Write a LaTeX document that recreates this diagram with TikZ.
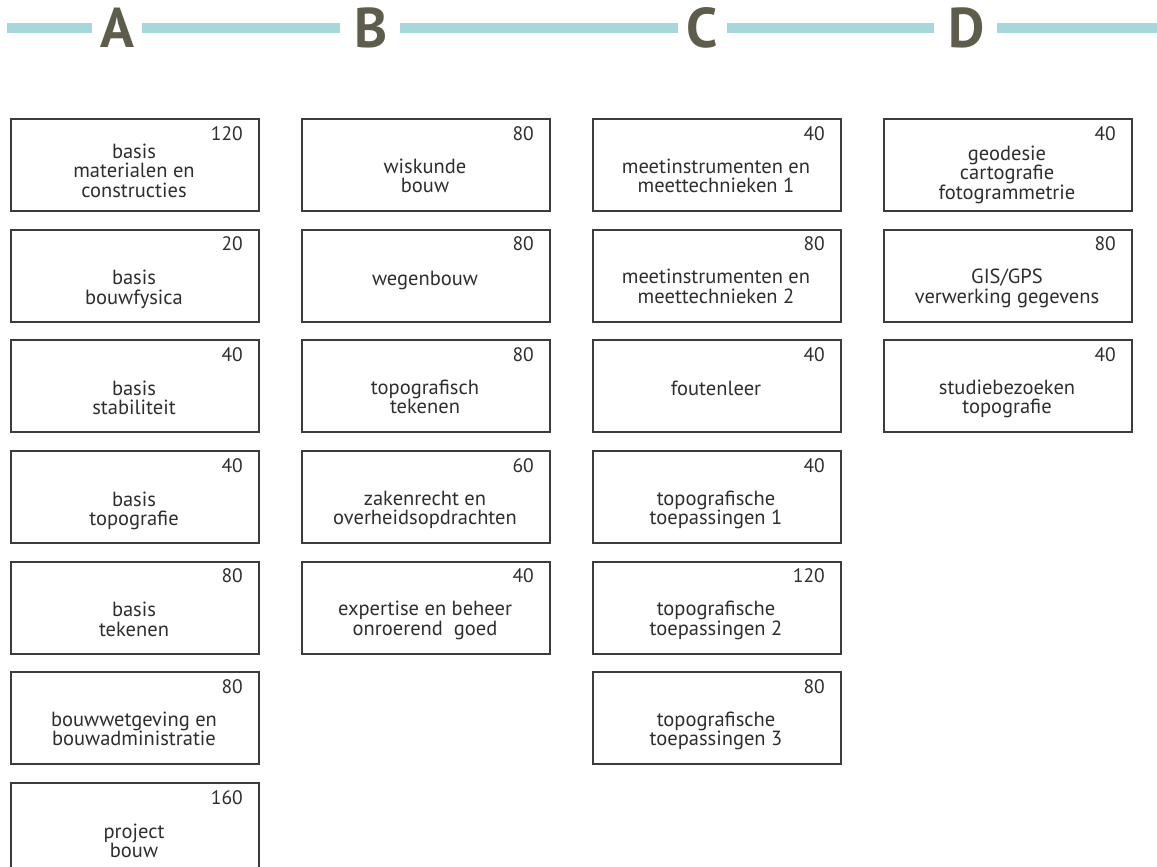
\documentclass[tikz,border=0pt]{standalone}
\usepackage{fontspec}
\setmainfont{PT Sans}
\definecolor{headline}{HTML}{A6D8DB}
\definecolor{headletter}{HTML}{5E5D4C}
\definecolor{boxgray}{HTML}{3C3C3C}
\definecolor{txtgray}{HTML}{2E2E2E}
\newcommand\mlines[1]{\vtop{\halign{\hfil##\hfil\cr#1\crcr}}}
\newcommand\crs[6]{%
  \node[cbox] (#1) at (#2,#3) {};
  \node[cnum] (#1n) at ({#2+233},{#3+22}) {#4};
  \node[clbl] (#1t) at ({#2+124},{#3+#5}) {\mlines{#6}};
}
\begin{document}
\begin{tikzpicture}[x=1pt,y=-1pt,
  cbox/.style={draw=boxgray, line width=1.8pt, minimum width=248pt, minimum height=92pt, anchor=north west, inner sep=0pt, fill=white},
  cnum/.style={anchor=base east, inner sep=0pt, text=txtgray, font=\fontsize{19.5}{19.5}\selectfont},
  clbl/.style={anchor=base, inner sep=0pt, text=txtgray, font=\fontsize{20.5}{19.5}\selectfont},
  hseg/.style={draw=headline, line width=10pt},
  hlet/.style={anchor=base, inner sep=0pt, text=headletter, font=\fontsize{56}{56}\selectfont\bfseries}]
\useasboundingbox (0,0) rectangle (1157,867);
\clip (0,0) rectangle (1157,867);
% header
\coordinate (s1a) at (7,28); \coordinate (s1b) at (92,28);
\coordinate (s2a) at (142,28); \coordinate (s2b) at (340,28);
\coordinate (s3a) at (400,28); \coordinate (s3b) at (678,28);
\coordinate (s4a) at (727,28); \coordinate (s4b) at (934,28);
\coordinate (s5a) at (997,28); \coordinate (s5b) at (1157,28);
\draw[hseg] (s1a) -- (s1b);
\draw[hseg] (s2a) -- (s2b);
\draw[hseg] (s3a) -- (s3b);
\draw[hseg] (s4a) -- (s4b);
\draw[hseg] (s5a) -- (s5b);
\node[hlet] (hA) at (117,48) {A};
\node[hlet] (hB) at (371.5,48) {B};
\node[hlet] (hC) at (702,48) {C};
\node[hlet] (hD) at (967,48) {D};
% column A
\crs{a1}{10}{118}{120}{40}{basis\cr materialen en\cr constructies}
\crs{a2}{10}{228.7}{20}{56}{basis\cr bouwfysica}
\crs{a3}{10}{339.3}{40}{56}{basis\cr stabiliteit}
\crs{a4}{10}{450}{40}{56}{basis\cr topografie}
\crs{a5}{10}{560.7}{80}{56}{basis\cr tekenen}
\crs{a6}{10}{671.3}{80}{55}{bouwwetgeving en\cr bouwadministratie}
\crs{a7}{10}{782}{160}{56}{project\cr bouw}
% column B
\crs{b1}{301}{118}{80}{55}{wiskunde\cr bouw}
\crs{b2}{301}{228.7}{80}{57}{wegenbouw}
\crs{b3}{301}{339.3}{80}{55}{topografisch\cr tekenen}
\crs{b4}{301}{450}{60}{55}{zakenrecht en\cr overheidsopdrachten}
\crs{b5}{301}{560.7}{40}{55}{expertise en beheer\cr onroerend\ \ goed}
% column C
\crs{c1}{592}{118}{40}{55}{meetinstrumenten en\cr meettechnieken 1}
\crs{c2}{592}{228.7}{80}{55}{meetinstrumenten en\cr meettechnieken 2}
\crs{c3}{592}{339.3}{40}{56}{foutenleer}
\crs{c4}{592}{450}{40}{55}{topografische\cr toepassingen 1}
\crs{c5}{592}{560.7}{120}{55}{topografische\cr toepassingen 2}
\crs{c6}{592}{671.3}{80}{55}{topografische\cr toepassingen 3}
% column D
\crs{d1}{883}{118}{40}{42}{geodesie\cr cartografie\cr fotogrammetrie}
\crs{d2}{883}{228.7}{80}{55}{GIS/GPS\cr verwerking gegevens}
\crs{d3}{883}{339.3}{40}{55}{studiebezoeken\cr topografie}
\end{tikzpicture}
\end{document}
